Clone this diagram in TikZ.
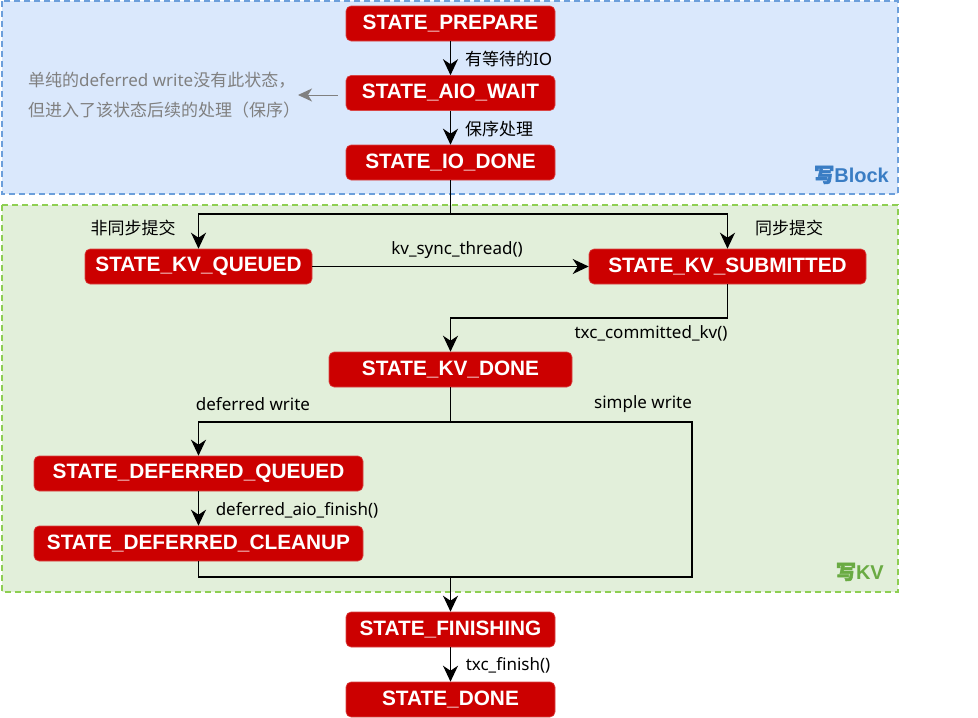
\documentclass[tikz,border=0pt]{standalone}
\usepackage{fontspec}
\setmainfont{Liberation Sans}
\newfontfamily\cjk{Noto Sans CJK SC}
\newfontfamily\cjkbold{Noto Sans CJK SC}[FakeBold=2.5]
\newfontfamily\lat{Noto Sans}
\usetikzlibrary{arrows.meta}
\definecolor{nodered}{HTML}{CC0000}
\definecolor{nodeborder}{HTML}{D94545}
\definecolor{bluefill}{HTML}{DAE8FC}
\definecolor{blueline}{HTML}{6C9FDB}
\definecolor{bluetext}{HTML}{3A7DC4}
\definecolor{greenfill}{HTML}{E2EFDA}
\definecolor{greenline}{HTML}{8ECF52}
\definecolor{greentext}{HTML}{6AAB43}
\definecolor{notegray}{HTML}{808080}
\tikzset{
  statebox/.style={rectangle, rounded corners=5pt, fill=nodered, draw=nodeborder, line width=0.6pt,
    text=white, font=\fontsize{20.8}{24}\selectfont\bfseries, minimum height=35pt, inner sep=0pt},
  flow/.style={draw=black, line width=1.4pt, -{Stealth[length=16pt 0, width=15pt 0, inset=5pt 0]}},
  noteflow/.style={draw=notegray, line width=1pt, -{Stealth[length=14pt 0, width=13pt 0, inset=4pt 0]}},
  plainline/.style={draw=black, line width=1.4pt},
  elabel/.style={font=\fontsize{17}{20}\selectfont, text=black, inner sep=0pt},
  grouplabel/.style={anchor=east, font=\fontsize{20}{24}\selectfont\bfseries, inner sep=0pt},
  group/.style={line width=1.3pt, dash pattern=on 6pt off 4pt},
}
\begin{document}
\begin{tikzpicture}[x=1pt,y=-1pt]
\useasboundingbox (0,0) rectangle (978,718);
% groups
\path[group, fill=bluefill, draw=blueline] (2,1) rectangle (898,194);
\path[group, fill=greenfill, draw=greenline] (2,205) rectangle (898,592);
\node[grouplabel, text=bluetext] (lblblock) at (889,175) {{\cjkbold 写}Block};
\node[grouplabel, text=greentext] (lblkv) at (884,572) {{\cjkbold 写}KV};
% states
\node[statebox, minimum width=209pt] (prep) at (450.5,23.5) {STATE\_PREPARE};
\node[statebox, minimum width=209pt] (aio) at (450.5,93) {STATE\_AIO\_WAIT};
\node[statebox, minimum width=209pt] (iodone) at (450.5,162.5) {STATE\_IO\_DONE};
\node[statebox, minimum width=227pt] (queued) at (198.5,266.5) {STATE\_KV\_QUEUED};
\node[statebox, minimum width=277pt] (submitted) at (727.5,266.5) {STATE\_KV\_SUBMITTED};
\node[statebox, minimum width=243pt] (kvdone) at (450.5,369.5) {STATE\_KV\_DONE};
\node[statebox, minimum width=329pt] (dq) at (198.5,473.5) {STATE\_DEFERRED\_QUEUED};
\node[statebox, minimum width=329pt] (dc) at (198.5,543.5) {STATE\_DEFERRED\_CLEANUP};
\node[statebox, minimum width=209pt] (fin) at (450.5,629.5) {STATE\_FINISHING};
\node[statebox, minimum width=209pt] (done) at (450.5,699.5) {STATE\_DONE};
% junctions
\coordinate (j1) at (450.5,214);
\coordinate (j2) at (450.5,318);
\coordinate (j3) at (450.5,422);
\coordinate (j4) at (692,577);
\coordinate (j5) at (450.5,577);
\coordinate (noteend) at (298,95);
% connectors
\draw[flow] (prep) -- (aio);
\draw[flow] (aio) -- (iodone);
\draw[noteflow, shorten <=8pt] (aio.west |- noteend) -- (noteend);
\draw[plainline] (iodone) -- (j1);
\draw[flow] (j1) -| (queued.north);
\draw[flow] (j1) -| (submitted.north);
\draw[flow] (queued) -- (submitted);
\draw[flow] (submitted.south) |- (j2) -- (kvdone.north);
\draw[plainline] (kvdone) -- (j3);
\draw[flow] (j3) -| (dq.north);
\draw[plainline] (j3) -| (j4) -- (j5);
\draw[flow] (dq) -- (dc);
\draw[flow] (dc.south) |- (j5) -- (fin.north);
\draw[flow] (fin) -- (done);
% labels
\node[elabel, anchor=west] (l1) at (465,59) {{\cjk 有等待的}{\lat IO}};
\node[elabel, anchor=west] (l2) at (465,129) {\cjk 保序处理};
\node[elabel] (l3) at (133,228) {\cjk 非同步提交};
\node[elabel] (l4) at (789,228) {\cjk 同步提交};
\node[elabel] (l5) at (457,250) {\lat kv\_sync\_thread()};
\node[elabel] (l6) at (651,333) {\lat txc\_committed\_kv()};
\node[elabel] (l7) at (253,404) {\lat deferred write};
\node[elabel] (l8) at (643,404) {\lat simple write};
\node[elabel] (l9) at (297,510) {\lat deferred\_aio\_finish()};
\node[elabel] (l10) at (508,665) {\lat txc\_finish()};
\node[elabel, anchor=west, text=notegray] (n1) at (28,80) {{\cjk 单纯的}{\lat deferred write}{\cjk 没有此状态，}};
\node[elabel, anchor=west, text=notegray] (n2) at (28,110) {\cjk 但进入了该状态后续的处理（保序）};
\end{tikzpicture}
\end{document}
